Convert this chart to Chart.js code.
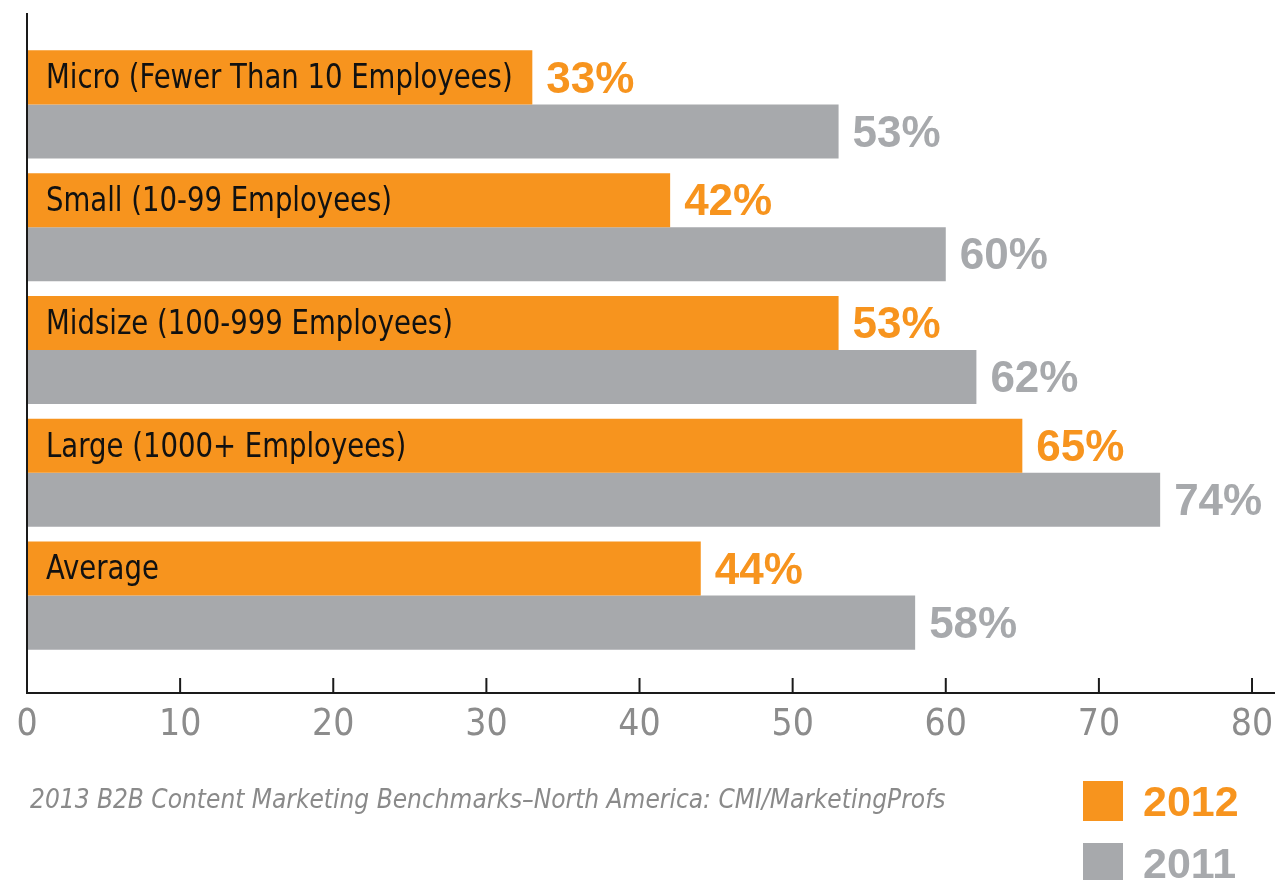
<!DOCTYPE html>
<html>
<head>
<meta charset="utf-8">
<script src="https://cdn.jsdelivr.net/npm/chart.js@4"></script>
<style>
  body { margin: 0; background: #fff; }
  #caixa { position: relative; width: 1285px; height: 880px; }
  #fonte {
    position: absolute; left: 30px; top: 784px;
    font: italic 26px 'DejaVu Sans Condensed', sans-serif;
    color: #8a8a8a;
  }
  #legenda { position: absolute; left: 1083px; top: 781px; }
  .item { display: flex; align-items: center; height: 40px; margin-bottom: 22px; }
  .quadrado { width: 40px; height: 40px; margin-right: 20px; }
  .texto { font: bold 43px 'Liberation Sans', sans-serif; }
</style>
</head>
<body>
<div id="caixa">
  <canvas id="grafico"></canvas>
  <div id="fonte">2013 B2B Content Marketing Benchmarks–North America: CMI/MarketingProfs</div>
  <div id="legenda"></div>
</div>
<script>
const categorias = [
  'Micro (Fewer Than 10 Employees)',
  'Small (10-99 Employees)',
  'Midsize (100-999 Employees)',
  'Large (1000+ Employees)',
  'Average'
];
const valores2012 = [33, 42, 53, 65, 44];
const valores2011 = [53, 60, 62, 74, 58];
const ticksX = [0, 10, 20, 30, 40, 50, 60, 70, 80];
const nomesSeries = ['2012', '2011'];

const laranja = '#F7941E';
const cinza = '#A7A9AC';

// eixos desenhados a mao (linhas passam do chartArea como no original)
const eixos = {
  id: 'eixos',
  afterDraw(chart) {
    const ctx = chart.ctx;
    const area = chart.chartArea;
    const x = chart.scales.x;
    const x0 = x.getPixelForValue(0);
    const yEixo = area.bottom + 36;
    ctx.save();
    ctx.strokeStyle = '#1a1a1a';
    ctx.lineWidth = 2;
    ctx.beginPath();
    ctx.moveTo(x0, area.top - 30);
    ctx.lineTo(x0, yEixo);
    ctx.lineTo(area.right, yEixo);
    ctx.stroke();
    x.ticks.forEach(t => {
      const px = x.getPixelForValue(t.value);
      ctx.beginPath();
      ctx.moveTo(px, yEixo);
      ctx.lineTo(px, yEixo - 15);
      ctx.stroke();
    });
    ctx.restore();
  }
};

const rotulos = {
  id: 'rotulos',
  afterDatasetsDraw(chart) {
    const ctx = chart.ctx;
    const left = chart.chartArea.left;
    ctx.save();
    ctx.textBaseline = 'middle';
    ctx.textAlign = 'left';
    // nomes dentro das barras laranjas (fonte estreitada na horizontal)
    ctx.fillStyle = '#111';
    ctx.font = "34px 'DejaVu Sans Condensed', sans-serif";
    chart.getDatasetMeta(0).data.forEach((bar, i) => {
      ctx.save();
      ctx.translate(left + 19, bar.y + 2);
      ctx.scale(0.9, 1);
      ctx.fillText(categorias[i], 0, 0);
      ctx.restore();
    });
    // valores
    ctx.font = "bold 44px 'Liberation Sans', sans-serif";
    chart.data.datasets.forEach((ds, d) => {
      ctx.fillStyle = ds.backgroundColor;
      chart.getDatasetMeta(d).data.forEach((bar, i) => {
        ctx.fillText(ds.data[i] + '%', bar.x + 14, bar.y + 3);
      });
    });
    ctx.restore();
  }
};

const grafico = new Chart(document.getElementById('grafico'), {
  type: 'bar',
  data: {
    labels: categorias,
    datasets: [
      { label: nomesSeries[0], data: valores2012, backgroundColor: laranja },
      { label: nomesSeries[1], data: valores2011, backgroundColor: cinza }
    ]
  },
  options: {
    indexAxis: 'y',
    responsive: true,
    maintainAspectRatio: false,
    animation: false,
    barPercentage: 1,
    categoryPercentage: 0.88,
    layout: { padding: { left: 27, right: 10, top: 43, bottom: 137 } },
    scales: {
      y: { display: false, offset: true },
      x: {
        min: 0,
        max: 81.5,
        afterBuildTicks: (scale) => { scale.ticks = ticksX.map(v => ({ value: v })); },
        afterFit: (scale) => {
          scale.height = 86;
          scale.paddingLeft = 0;
          scale.paddingRight = 0;
        },
        grid: { display: false, drawTicks: false },
        border: { display: false },
        ticks: {
          padding: 46,
          color: '#8c8c8c',
          maxRotation: 0,
          autoSkip: false,
          font: { family: "'DejaVu Sans Condensed', sans-serif", size: 37 }
        }
      }
    },
    plugins: {
      legend: { display: false },
      tooltip: { enabled: false }
    }
  },
  plugins: [eixos, rotulos]
});

// legenda feita em html
const legenda = document.getElementById('legenda');
grafico.data.datasets.forEach(ds => {
  legenda.innerHTML += `<div class="item"><div class="quadrado" style="background:${ds.backgroundColor}"></div>` +
    `<span class="texto" style="color:${ds.backgroundColor}">${ds.label}</span></div>`;
});
</script>
</body>
</html>
